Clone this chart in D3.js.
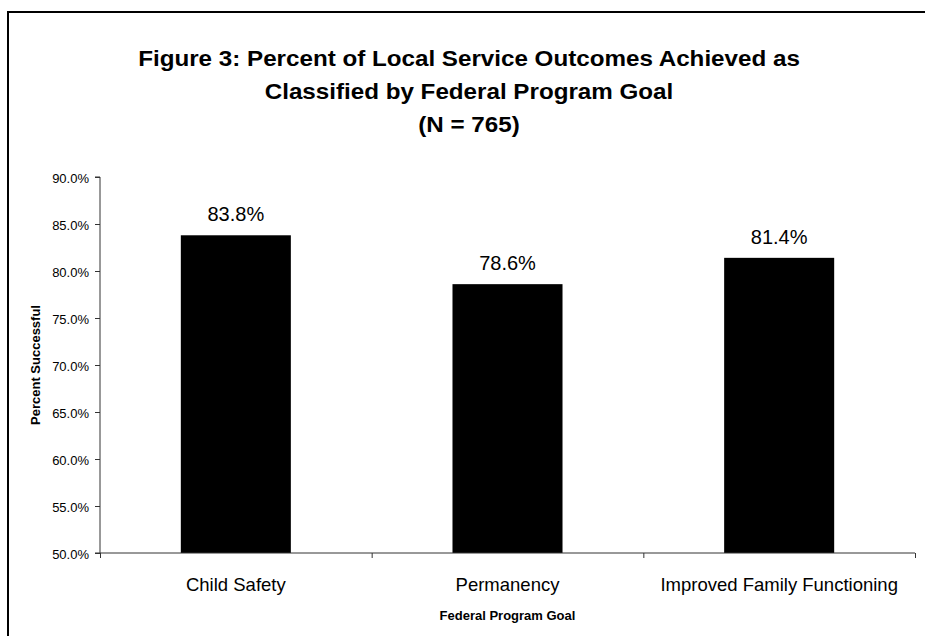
<!DOCTYPE html>
<html>
<head>
<meta charset="utf-8">
<script src="https://cdn.jsdelivr.net/npm/d3@7/dist/d3.min.js"></script>
<style>
  html, body { margin: 0; padding: 0; background: #fff; overflow: hidden; }
  svg { display: block; font-family: "Liberation Sans", Arial, sans-serif; }
</style>
</head>
<body>
<svg id="chart" width="925" height="636"></svg>
<script>
const titleLines = [
  "Figure 3: Percent of Local Service Outcomes Achieved as",
  "Classified by Federal Program Goal",
  "(N = 765)"
];
const categories = ["Child Safety", "Permanency", "Improved Family Functioning"];
const values = [83.8, 78.6, 81.4];
const yTicks = [50, 55, 60, 65, 70, 75, 80, 85, 90];
const yLabel = "Percent Successful";
const xLabel = "Federal Program Goal";

const svg = d3.select("#chart");
const W = 925, H = 636;
const plot = { left: 100, right: 915, top: 177, bottom: 553 };

// outer frame: only top and left edges are inside the view
svg.append("path")
  .attr("d", `M8,${H}V12H${W}`)
  .attr("fill", "none").attr("stroke", "#000").attr("stroke-width", 2);

// title
const title = svg.append("text")
  .attr("transform", "translate(469,0) scale(1.1,1)")
  .attr("text-anchor", "middle")
  .attr("font-weight", "bold")
  .attr("font-size", 22)
  .attr("fill", "#000");
titleLines.forEach((t, i) => {
  title.append("tspan").attr("x", 0).attr("y", 66 + i * 33).text(t);
});

const y = d3.scaleLinear().domain([50, 90]).range([plot.bottom, plot.top]);
const pad = 0.595;
const x = d3.scaleBand().domain(categories)
  .range([plot.left, plot.right])
  .paddingInner(pad).paddingOuter(pad / 2);

// bars
svg.append("g").selectAll("rect").data(values).join("rect")
  .attr("x", (d, i) => x(categories[i]))
  .attr("width", x.bandwidth())
  .attr("y", d => y(d))
  .attr("height", d => y(50) - y(d))
  .attr("fill", "#000");

// data labels
svg.append("g").selectAll("text").data(values).join("text")
  .attr("x", (d, i) => x(categories[i]) + x.bandwidth() / 2)
  .attr("y", d => y(d) - 14)
  .attr("text-anchor", "middle")
  .attr("font-size", 20)
  .attr("fill", "#000")
  .text(d => d.toFixed(1) + "%");

// y axis
const yAxis = d3.axisLeft(y).tickValues(yTicks).tickSize(5).tickPadding(6)
  .tickFormat(d => d.toFixed(1) + "%");
const gy = svg.append("g").attr("transform", `translate(${plot.left},0)`).call(yAxis);
gy.select(".domain").attr("stroke", "#333").attr("d", `M-5,${plot.top}H0V${plot.bottom}H-5`);
gy.selectAll(".tick line").attr("stroke", "#333");
gy.selectAll(".tick text").attr("font-size", 13).attr("fill", "#000")
  .attr("font-family", "Liberation Sans, Arial, sans-serif").attr("dy", "0.4em");

// x axis: boundary ticks
const xb = d3.scaleLinear().domain([0, categories.length]).range([plot.left, plot.right]);
const gxb = svg.append("g").attr("transform", `translate(0,${plot.bottom})`)
  .call(d3.axisBottom(xb).tickValues(d3.range(categories.length + 1)).tickSize(5).tickFormat(""));
gxb.select(".domain").attr("stroke", "#333").attr("d", `M${plot.left},0H${plot.right}`);
gxb.selectAll(".tick line").attr("stroke", "#333");

// x axis: category labels
const gx = svg.append("g").attr("transform", `translate(0,${plot.bottom})`)
  .call(d3.axisBottom(x).tickSize(0).tickPadding(0));
gx.select(".domain").remove();
gx.selectAll(".tick text").attr("font-size", 18.5).attr("fill", "#000")
  .attr("font-family", "Liberation Sans, Arial, sans-serif")
  .attr("dy", null).attr("y", 38);

// axis titles
svg.append("text")
  .attr("x", (plot.left + plot.right) / 2).attr("y", 620)
  .attr("text-anchor", "middle").attr("font-weight", "bold").attr("font-size", 13)
  .text(xLabel);
svg.append("text")
  .attr("transform", `translate(40,${(plot.top + plot.bottom) / 2}) rotate(-90)`)
  .attr("text-anchor", "middle").attr("font-weight", "bold").attr("font-size", 13)
  .text(yLabel);
</script>
</body>
</html>
